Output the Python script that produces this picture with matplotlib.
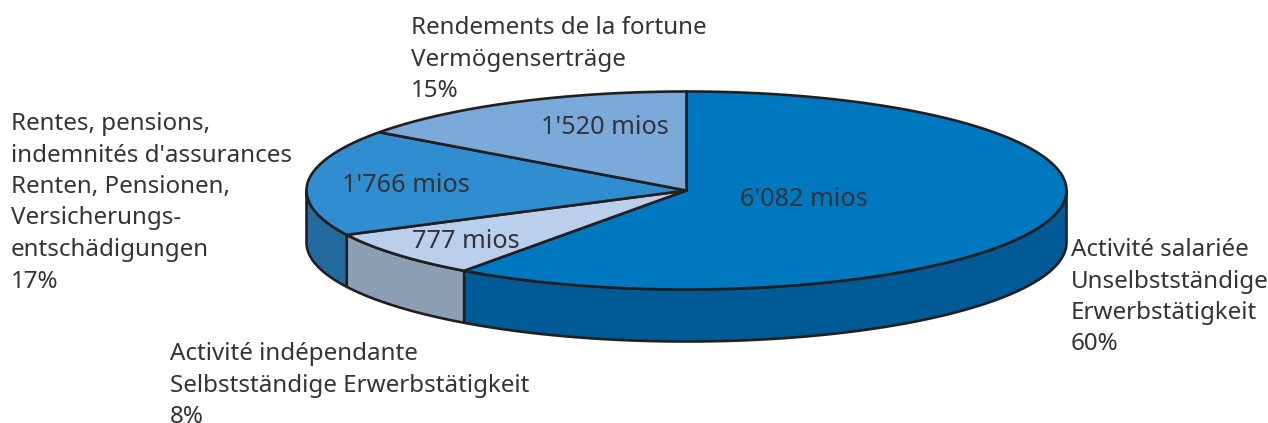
#!/usr/bin/env python3
# -*- coding: utf-8 -*-
import numpy as np
import matplotlib
matplotlib.use('Agg')
import matplotlib.pyplot as plt

#%% data, clockwise from 12 o'clock
values = [6082, 777, 1766, 1520]
value_labels = ["6'082 mios", "777 mios", "1'766 mios", "1'520 mios"]
top_colors = ['#0078bf', '#b9cfec', '#308dcf', '#7aa9da']
side_colors = ['#005a96', '#8c9fb5', '#236a9e', '#5f86b0']
names = ["Activité salariée\nUnselbstständige\nErwerbstätigkeit\n60%",
         "Activité indépendante\nSelbstständige Erwerbstätigkeit\n8%",
         "Rentes, pensions,\nindemnités d'assurances\nRenten, Pensionen,\nVersicherungs-\nentschädigungen\n17%",
         "Rendements de la fortune\nVermögenserträge\n15%"]

#%% layout in figure pixels
cx, cy = 686.5, 190.5
rx, ry = 380, 99
depth = 52
line = '#231f20'
lw = 1.9
txt = '#333338'
fs = 17.4
plt.rcParams['font.family'] = ['Noto Sans', 'DejaVu Sans']

value_pos = [(804, 200), (466, 241), (406, 186), (605, 128)]
# first line centre of each block, spacing is 31.5 px
name_pos = [(1071, 247), (170, 351), (11, 121), (411, 25)]
step = 31.5

def pts(a):
    a = np.radians(a)
    return cx + rx * np.sin(a), cy - ry * np.cos(a)

#%% set up plot
fig = plt.figure(figsize=(12.68, 4.23), dpi=100)
ax = fig.add_axes([0, 0, 1, 1])
ax.set_xlim(0, 1268)
ax.set_ylim(423, 0)
ax.axis('off')

edges = np.concatenate([[0], np.cumsum(values)]) / sum(values) * 360

#%% side wall, only the front half of the rim shows
for i in range(len(values)):
    a0, a1 = max(edges[i], 90), min(edges[i + 1], 270)
    if a1 <= a0:
        continue
    x, y = pts(np.linspace(a0, a1, 150))
    ax.fill(np.r_[x, x[::-1]], np.r_[y, y[::-1] + depth], fc=side_colors[i],
            ec=line, lw=lw, joinstyle='round', zorder=1)

#%% top of the pie
for i in range(len(values)):
    x, y = pts(np.linspace(edges[i], edges[i + 1], 300))
    ax.fill(np.r_[cx, x], np.r_[cy, y], fc=top_colors[i], ec=line, lw=lw,
            joinstyle='round', zorder=2)

#%% labels
for lab, (x, y) in zip(value_labels, value_pos):
    ax.text(x, y, lab, fontsize=18.2, color=txt, weight='light', ha='center', va='center', zorder=3)
for lab, (x, y) in zip(names, name_pos):
    for k, row in enumerate(lab.split('\n')):
        ax.text(x, y + k * step, row, fontsize=fs, color=txt, weight='light', ha='left',
                va='center_baseline', zorder=3)

plt.savefig('out.png', dpi=100)
